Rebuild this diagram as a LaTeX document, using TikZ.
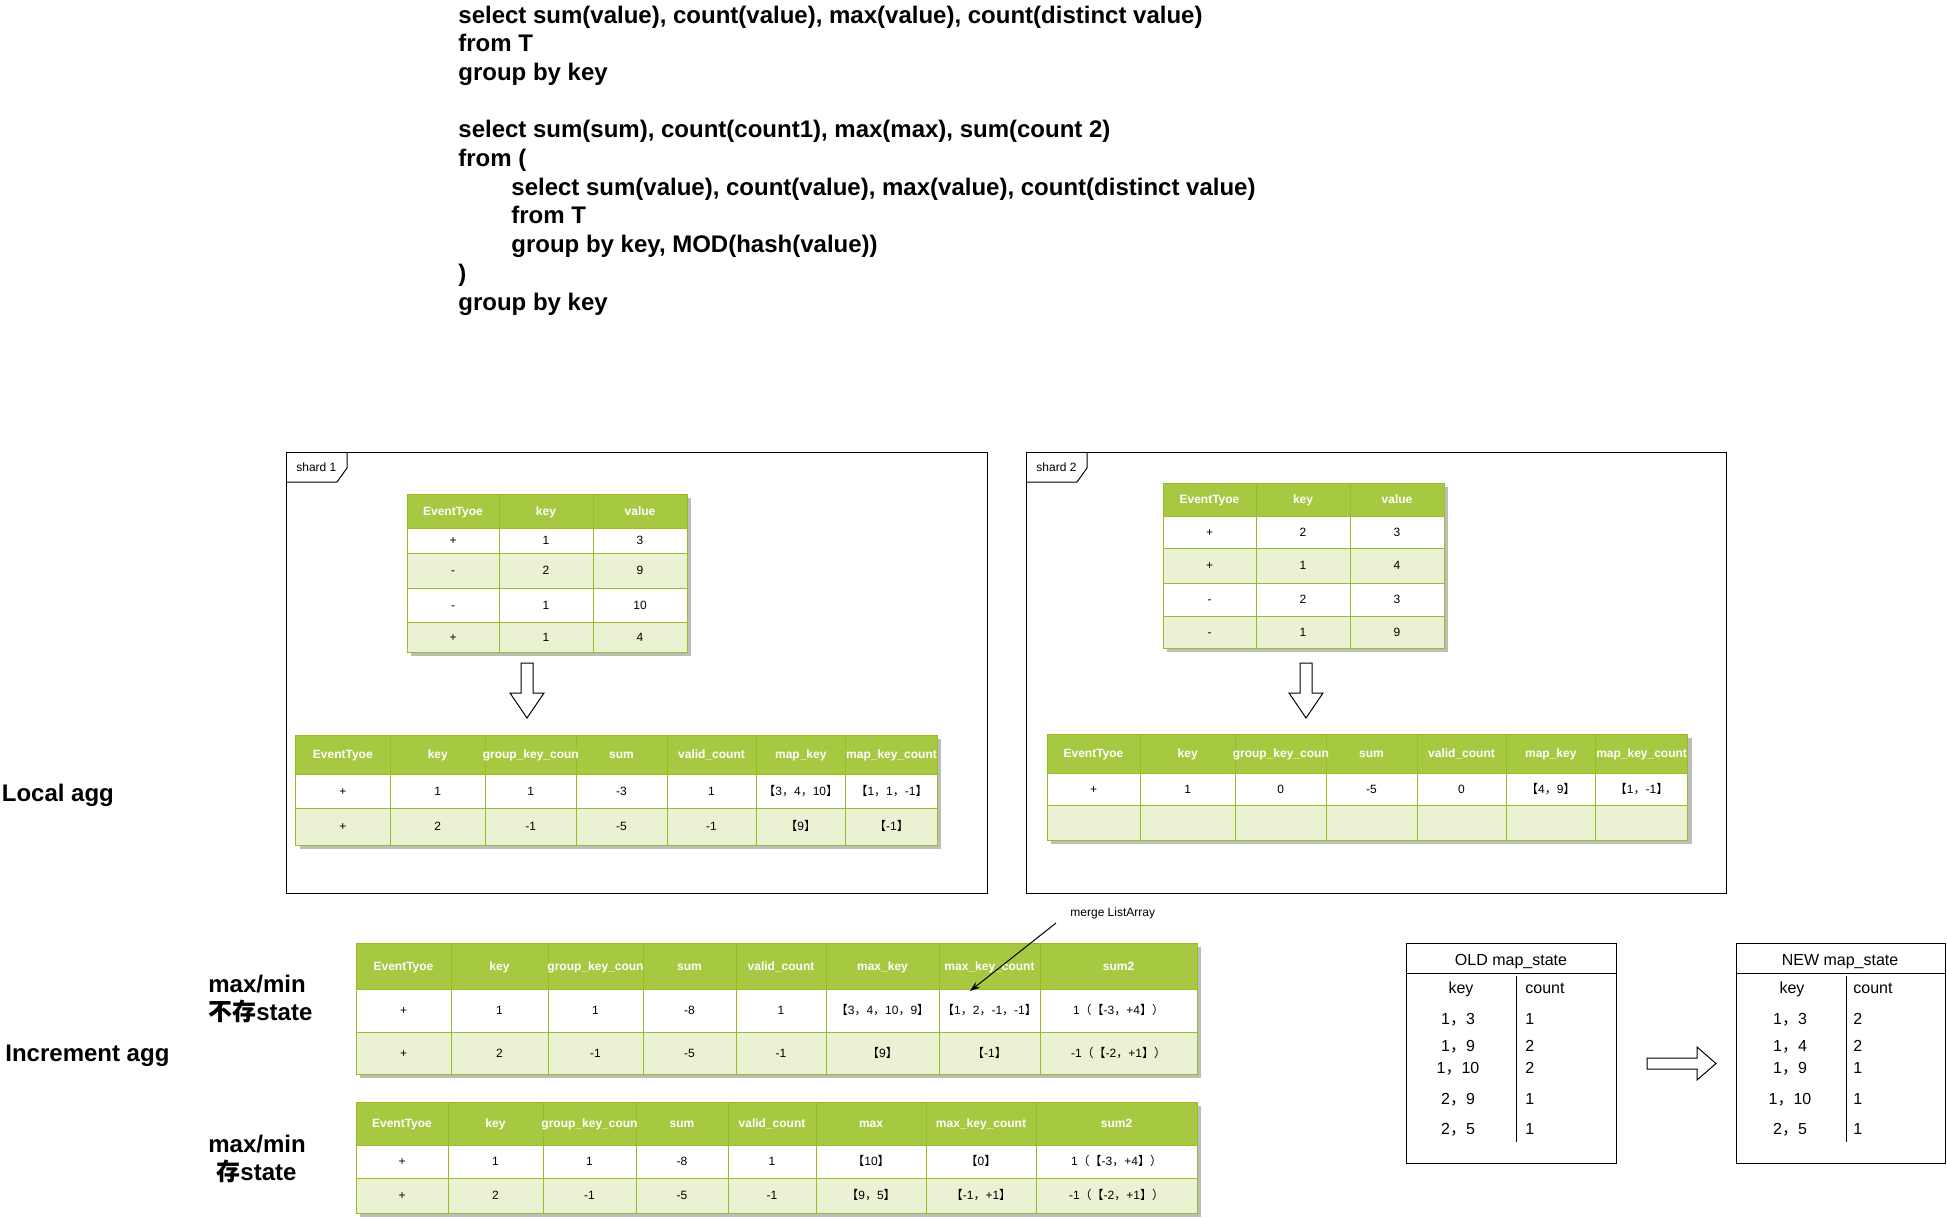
\documentclass[tikz,border=0pt]{standalone}
\usepackage{fontspec}
\setmainfont{Liberation Sans}
\newfontfamily\cjk{Noto Sans CJK SC}
\usetikzlibrary{arrows.meta}
\definecolor{hdrc}{HTML}{A7C942}
\definecolor{altc}{HTML}{EAF2D3}
\definecolor{gridc}{HTML}{98BF21}
\definecolor{shadowc}{HTML}{BDBDBD}
\newcommand\Lbr{{\cjk 【}}
\newcommand\Rbr{{\cjk 】}}
\newcommand\Fcm{{\cjk ，}}
\newcommand\Lpa{{\cjk （}}
\newcommand\Rpa{{\cjk ）}}
\newcommand\trow[4]{\foreach \xc/\cc [count=\i] in {#4}{\node[#2] (#1-\i) at (\xc,#3) {\cc};}}
\tikzset{
  tline/.style={draw=gridc, line width=0.5pt},
  frame/.style={draw=black, line width=0.5pt},
  hcell/.style={inner sep=0pt, text height=4.3pt, text depth=0pt, text=white, font=\fontsize{6}{7}\selectfont\bfseries},
  bcell/.style={inner sep=0pt, text height=4.3pt, text depth=0pt, font=\fontsize{6}{7}\selectfont},
  sqltext/.style={anchor=base west, inner sep=0pt, font=\fontsize{12}{14}\selectfont\bfseries},
  mtext/.style={anchor=base, inner sep=0pt, font=\fontsize{8}{10}\selectfont},
  mtextl/.style={mtext, anchor=base west},
  barrow/.style={draw=black, fill=white, line width=0.5pt, line join=miter},
  tinylbl/.style={anchor=base west, inner sep=0pt, font=\fontsize{6}{7}\selectfont},
}
\begin{document}
\begin{tikzpicture}[x=0.5pt,y=-0.5pt]
\useasboundingbox (0,0) rectangle (1947,1217);
\fill[white] (0,0) rectangle (1947,1217);

% ---------- SQL text ----------
\node[sqltext] (q1) at (458,23) {select sum(value), count(value), max(value), count(distinct value)};
\node[sqltext] (q2) at (458,51.7) {from T};
\node[sqltext] (q3) at (458,80.4) {group by key};
\node[sqltext] (q4) at (458,137.8) {select sum(sum), count(count1), max(max), sum(count 2)};
\node[sqltext] (q5) at (458,166.5) {from (};
\node[sqltext] (q6) at (511,195.2) {select sum(value), count(value), max(value), count(distinct value)};
\node[sqltext] (q7) at (511,223.9) {from T};
\node[sqltext] (q8) at (511,252.6) {group by key, MOD(hash(value))};
\node[sqltext] (q9) at (458,281.3) {)};
\node[sqltext] (q10) at (458,310) {group by key};

% ---------- side labels ----------
\node[sqltext] (localagg) at (1.5,801) {Local agg};
\node[sqltext] (incagg) at (5,1061.5) {Increment agg};
\node[sqltext] (mm1) at (208,992) {max/min};
\node[sqltext] (mm1b) at (208,1020) {{\cjk 不存}state};
\node[sqltext] (mm2) at (208,1152) {max/min};
\node[sqltext, anchor=base] (mm2b) at (256.5,1180) {{\cjk 存}state};

% ---------- shard frames ----------
\draw[frame] (286,452) rectangle (987,893);
\draw[frame] (286,482) -- (337,482) -- (347,468) -- (347,452);
\node[tinylbl] (sh1) at (296,471) {shard 1};
\draw[frame] (1026,452) rectangle (1726,893);
\draw[frame] (1026,482) -- (1077,482) -- (1087,468) -- (1087,452);
\node[tinylbl] (sh2) at (1036,471) {shard 2};

% ---------- Table A (shard 1 input) ----------
\fill[shadowc] (411,498) rectangle (691,656);
\fill[hdrc] (407,494) rectangle (687,528);
\fill[white] (407,528) rectangle (687,553);
\fill[altc] (407,553) rectangle (687,588);
\fill[white] (407,588) rectangle (687,622);
\fill[altc] (407,622) rectangle (687,652);
\draw[tline] (407,494) rectangle (687,652);
\foreach \x in {499,593} \draw[tline] (\x,494) -- (\x,652);
\foreach \y in {528,553,588,622} \draw[tline] (407,\y) -- (687,\y);
\trow{A-h}{hcell}{511}{453/EventTyoe,546/key,640/value}
\trow{A-r1}{bcell}{540.5}{453/+,546/1,640/3}
\trow{A-r2}{bcell}{570.5}{453/-,546/2,640/9}
\trow{A-r3}{bcell}{605}{453/-,546/1,640/10}
\trow{A-r4}{bcell}{637}{453/+,546/1,640/4}

% down arrow shard 1
\draw[barrow] (521,663) -- (533,663) -- (533,693) -- (544,693) -- (527,718) -- (510,693) -- (521,693) -- cycle;

% ---------- Table B (shard 1 output) ----------
\fill[shadowc] (299.5,739) rectangle (941.4,849);
\fill[hdrc] (295.5,735) rectangle (937.4,774);
\fill[white] (295.5,774) rectangle (937.4,808);
\fill[altc] (295.5,808) rectangle (937.4,845);
\draw[tline] (295.5,735) rectangle (937.4,845);
\foreach \x in {390,485.5,576,667,756,845.6} \draw[tline] (\x,735) -- (\x,845);
\foreach \y in {774,808} \draw[tline] (295.5,\y) -- (937.4,\y);
\trow{B-h}{hcell}{754.5}{342.8/EventTyoe,437.8/key,530.8/group\_key\_coun,621.5/sum,711.5/valid\_count,800.8/map\_key,891.5/map\_key\_count}
\trow{B-r1}{bcell}{791}{342.8/+,437.8/1,530.8/1,621.5/-3,711.5/1,800.8/{\Lbr 3\Fcm 4\Fcm 10\Rbr},891.5/{\Lbr 1\Fcm 1\Fcm -1\Rbr}}
\trow{B-r2}{bcell}{826.5}{342.8/+,437.8/2,530.8/-1,621.5/-5,711.5/-1,800.8/{\Lbr 9\Rbr},891.5/{\Lbr -1\Rbr}}

% ---------- Table C (shard 2 input) ----------
\fill[shadowc] (1167,487) rectangle (1448,652);
\fill[hdrc] (1163,483) rectangle (1444,516);
\fill[white] (1163,516) rectangle (1444,548);
\fill[altc] (1163,548) rectangle (1444,583);
\fill[white] (1163,583) rectangle (1444,616);
\fill[altc] (1163,616) rectangle (1444,648);
\draw[tline] (1163,483) rectangle (1444,648);
\foreach \x in {1256,1350} \draw[tline] (\x,483) -- (\x,648);
\foreach \y in {516,548,583,616} \draw[tline] (1163,\y) -- (1444,\y);
\trow{C-h}{hcell}{499.5}{1209.5/EventTyoe,1303/key,1397/value}
\trow{C-r1}{bcell}{532}{1209.5/+,1303/2,1397/3}
\trow{C-r2}{bcell}{565.5}{1209.5/+,1303/1,1397/4}
\trow{C-r3}{bcell}{599.5}{1209.5/-,1303/2,1397/3}
\trow{C-r4}{bcell}{632}{1209.5/-,1303/1,1397/9}

% down arrow shard 2
\draw[barrow] (1300,663) -- (1312,663) -- (1312,693) -- (1323,693) -- (1306,718) -- (1289,693) -- (1300,693) -- cycle;

% ---------- Table D (shard 2 output) ----------
\fill[shadowc] (1051,738) rectangle (1691.5,844);
\fill[hdrc] (1047,734) rectangle (1687.5,773);
\fill[white] (1047,773) rectangle (1687.5,805);
\fill[altc] (1047,805) rectangle (1687.5,840);
\draw[tline] (1047,734) rectangle (1687.5,840);
\foreach \x in {1140,1235.5,1326,1417,1506,1595.6} \draw[tline] (\x,734) -- (\x,840);
\foreach \y in {773,805} \draw[tline] (1047,\y) -- (1687.5,\y);
\trow{D-h}{hcell}{753.5}{1093.5/EventTyoe,1187.7/key,1280.8/group\_key\_coun,1371.5/sum,1461.5/valid\_count,1550.8/map\_key,1641.6/map\_key\_count}
\trow{D-r1}{bcell}{789}{1093.5/+,1187.7/1,1280.8/0,1371.5/-5,1461.5/0,1550.8/{\Lbr 4\Fcm 9\Rbr},1641.6/{\Lbr 1\Fcm -1\Rbr}}

% ---------- Table E (increment, no state) ----------
\fill[shadowc] (360,947) rectangle (1201,1078);
\fill[hdrc] (356,943) rectangle (1197,989);
\fill[white] (356,989) rectangle (1197,1032);
\fill[altc] (356,1032) rectangle (1197,1074);
\draw[tline] (356,943) rectangle (1197,1074);
\foreach \x in {451,548,643,736,826,939,1040} \draw[tline] (\x,943) -- (\x,1074);
\foreach \y in {989,1032} \draw[tline] (356,\y) -- (1197,\y);
\trow{E-h}{hcell}{966}{403.5/EventTyoe,499.5/key,595.5/group\_key\_coun,689.5/sum,781/valid\_count,882.5/max\_key,989.5/max\_key\_count,1118.5/sum2}
\trow{E-r1}{bcell}{1010.5}{403.5/+,499.5/1,595.5/1,689.5/-8,781/1,882.5/{\Lbr 3\Fcm 4\Fcm 10\Fcm 9\Rbr},989.5/{\Lbr 1\Fcm 2\Fcm -1\Fcm -1\Rbr},1118.5/{1\Lpa\Lbr -3\Fcm +4\Rbr\Rpa}}
\trow{E-r2}{bcell}{1053}{403.5/+,499.5/2,595.5/-1,689.5/-5,781/-1,882.5/{\Lbr 9\Rbr},989.5/{\Lbr -1\Rbr},1118.5/{-1\Lpa\Lbr -2\Fcm +1\Rbr\Rpa}}

% merge ListArray annotation
\node[tinylbl] (merge) at (1070,916.5) {merge ListArray};
\coordinate (mstart) at (1056,923);
\coordinate (mend) at (970,991);
\draw[line width=0.5pt, -{Stealth[length=5pt,width=3.5pt]}] (mstart) -- (mend);

% ---------- Table F (increment, with state) ----------
\fill[shadowc] (360,1106) rectangle (1201,1217);
\fill[hdrc] (356,1102) rectangle (1197,1145);
\fill[white] (356,1145) rectangle (1197,1178);
\fill[altc] (356,1178) rectangle (1197,1213);
\draw[tline] (356,1102) rectangle (1197,1213);
\foreach \x in {448,543,636,728,816,926,1036} \draw[tline] (\x,1102) -- (\x,1213);
\foreach \y in {1145,1178} \draw[tline] (356,\y) -- (1197,\y);
\trow{F-h}{hcell}{1123.5}{402/EventTyoe,495.5/key,589.5/group\_key\_coun,682/sum,772/valid\_count,871/max,981/max\_key\_count,1116.5/sum2}
\trow{F-r1}{bcell}{1161.5}{402/+,495.5/1,589.5/1,682/-8,772/1,871/{\Lbr 10\Rbr},981/{\Lbr 0\Rbr},1116.5/{1\Lpa\Lbr -3\Fcm +4\Rbr\Rpa}}
\trow{F-r2}{bcell}{1195.5}{402/+,495.5/2,589.5/-1,682/-5,772/-1,871/{\Lbr 9\Fcm 5\Rbr},981/{\Lbr -1\Fcm +1\Rbr},1116.5/{-1\Lpa\Lbr -2\Fcm +1\Rbr\Rpa}}

% ---------- OLD map_state ----------
\draw[frame] (1406,943) rectangle (1616,1163);
\draw[line width=0.5pt] (1406,973.5) -- (1616,973.5);
\draw[line width=0.5pt] (1516,976) -- (1516,1142);
\node[mtext] (oldt) at (1511,965) {OLD map\_state};
\node[mtext] (oldk) at (1461,993) {key};
\node[mtextl] (oldc) at (1525,993) {count};
\node[mtext] (ok1) at (1458,1024) {1\Fcm 3};
\node[mtext] (ok2) at (1458,1051) {1\Fcm 9};
\node[mtext] (ok3) at (1458,1073) {1\Fcm 10};
\node[mtext] (ok4) at (1458,1104) {2\Fcm 9};
\node[mtext] (ok5) at (1458,1134) {2\Fcm 5};
\node[mtextl] (oc1) at (1525,1024) {1};
\node[mtextl] (oc2) at (1525,1051) {2};
\node[mtextl] (oc3) at (1525,1073) {2};
\node[mtextl] (oc4) at (1525,1104) {1};
\node[mtextl] (oc5) at (1525,1134) {1};

% block arrow right
\draw[barrow] (1647,1058) -- (1697,1058) -- (1697,1047) -- (1716,1063.5) -- (1697,1080) -- (1697,1069) -- (1647,1069) -- cycle;

% ---------- NEW map_state ----------
\draw[frame] (1736,943) rectangle (1945,1163);
\draw[line width=0.5pt] (1736,973.5) -- (1945,973.5);
\draw[line width=0.5pt] (1846,976) -- (1846,1142);
\node[mtext] (newt) at (1840,965) {NEW map\_state};
\node[mtext] (newk) at (1792,993) {key};
\node[mtextl] (newc) at (1853,993) {count};
\node[mtext] (nk1) at (1790,1024) {1\Fcm 3};
\node[mtext] (nk2) at (1790,1051) {1\Fcm 4};
\node[mtext] (nk3) at (1790,1073) {1\Fcm 9};
\node[mtext] (nk4) at (1790,1104) {1\Fcm 10};
\node[mtext] (nk5) at (1790,1134) {2\Fcm 5};
\node[mtextl] (nc1) at (1853,1024) {2};
\node[mtextl] (nc2) at (1853,1051) {2};
\node[mtextl] (nc3) at (1853,1073) {1};
\node[mtextl] (nc4) at (1853,1104) {1};
\node[mtextl] (nc5) at (1853,1134) {1};
\end{tikzpicture}
\end{document}
